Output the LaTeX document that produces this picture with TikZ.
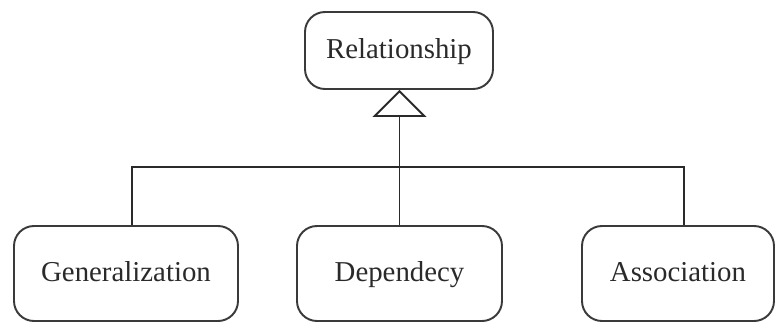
\documentclass[tikz,border=0pt]{standalone}
\usepackage{fontspec}
\setmainfont{Liberation Serif}
\usepackage{tikz}
\definecolor{gray800}{HTML}{3A3A3A}
\definecolor{gray900}{HTML}{2A2A2A}
\usetikzlibrary{arrows.meta}
\tikzstyle{klasse}=[draw=gray800, rounded corners=0.4cm, line width=1.1pt, text=gray900, font=\fontsize{16.4}{20}\selectfont, text height=0.9em, text depth=0pt, inner sep=0pt, minimum height=1.9cm]
\tikzstyle{linha}=[draw=gray900, line width=1.1pt]

\begin{document}
\begin{tikzpicture}
			\useasboundingbox (0,0) rectangle (15.52,-6.46);
			\node[klasse, minimum width=3.76cm, minimum height=1.54cm] (rel) at (7.98,-1.01) {Relationship};
			\node[klasse, minimum width=4.48cm] (gen) at (2.52,-5.47) {Generalization};
			\node[klasse, minimum width=4.10cm] (dep) at (7.99,-5.47) {Dependecy};
			\node[klasse, minimum width=3.84cm] (ass) at (13.56,-5.47) {Association};
			\coordinate (bus) at (7.99,-3.34);
			\path[linha] ([xshift=0.12cm]gen.north) |- (bus) -| ([xshift=0.12cm]ass.north);
			\path[linha, -{Triangle[open, length=0.54cm, width=1.08cm, line width=1.1pt]}] (dep.north) -- (dep.north |- rel.south);
		\end{tikzpicture}
\end{document}
